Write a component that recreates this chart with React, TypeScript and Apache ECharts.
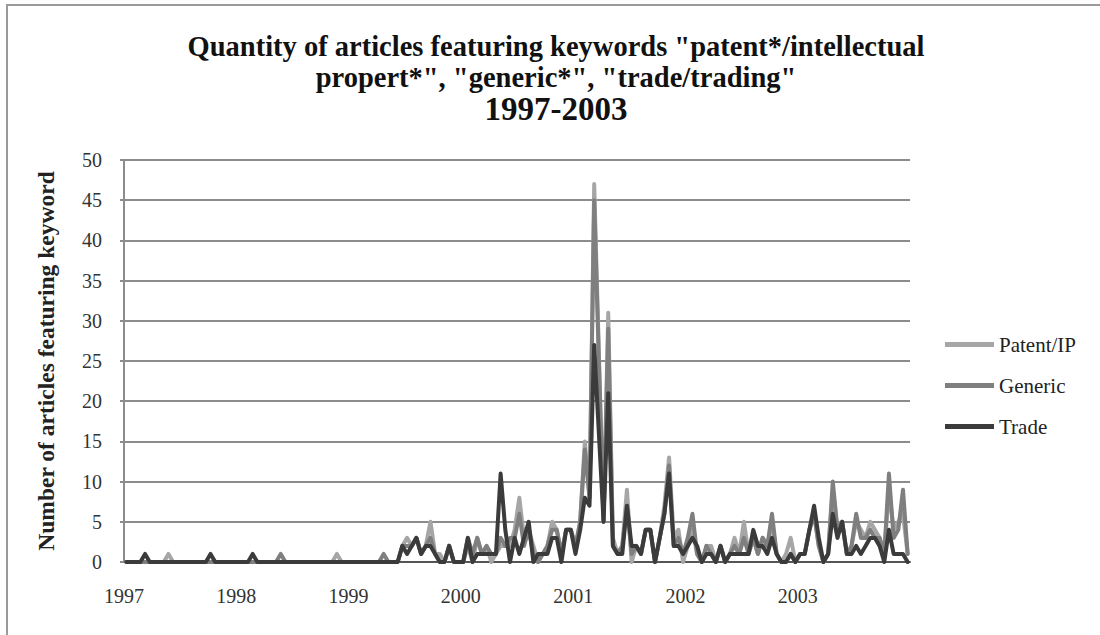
import React, { useEffect, useRef } from 'react';
import * as echarts from 'echarts';

// Year labels shown under the x axis
const yearLabels = ['1997', '1998', '1999', '2000', '2001', '2002', '2003'];
const periodsPerYear = 24; // two readings per month
const categories = yearLabels.flatMap((y) =>
  Array.from({ length: periodsPerYear }, (_, k) => `${y}-${k + 1}`)
);

// Patent/IP series (one row per year)
const patentIP = [
  0, 0, 0, 0, 0, 0, 0, 0, 0, 1, 0, 0, 0, 0, 0, 0, 0, 0, 0, 0, 0, 0, 0, 0,
  0, 0, 0, 0, 0, 0, 0, 0, 0, 0, 0, 0, 0, 0, 0, 0, 0, 0, 0, 0, 0, 1, 0, 0,
  0, 0, 0, 0, 0, 0, 0, 0, 0, 0, 0, 2, 3, 2, 3, 1, 2, 5, 1, 1, 0, 2, 0, 0,
  0, 2, 0, 3, 1, 2, 0, 1, 2, 2, 2, 4, 8, 3, 4, 2, 0, 1, 2, 5, 4, 1, 4, 4,
  2, 5, 15, 8, 47, 26, 5, 31, 3, 1, 2, 9, 0, 2, 1, 4, 4, 0, 3, 7, 13, 3, 4, 0,
  2, 4, 1, 0, 2, 2, 0, 2, 0, 1, 3, 1, 5, 1, 3, 1, 3, 2, 5, 1, 0, 1, 3, 0,
  1, 1, 4, 6, 2, 0, 1, 9, 4, 5, 1, 2, 5, 4, 3, 5, 4, 3, 1, 9, 4, 5, 6, 1,
];

// Generic series
const generic = [
  0, 0, 0, 0, 0, 0, 0, 0, 0, 0, 0, 0, 0, 0, 0, 0, 0, 0, 0, 0, 0, 0, 0, 0,
  0, 0, 0, 0, 0, 0, 0, 0, 0, 1, 0, 0, 0, 0, 0, 0, 0, 0, 0, 0, 0, 0, 0, 0,
  0, 0, 0, 0, 0, 0, 0, 1, 0, 0, 0, 2, 2, 2, 3, 1, 2, 3, 1, 0, 0, 2, 0, 0,
  0, 3, 1, 3, 1, 2, 1, 1, 3, 2, 3, 3, 6, 2, 4, 1, 0, 1, 2, 4, 4, 1, 4, 4,
  2, 5, 14, 8, 45, 25, 5, 29, 2, 1, 2, 7, 1, 2, 1, 4, 4, 0, 3, 6, 12, 2, 3, 1,
  3, 6, 1, 0, 2, 1, 0, 2, 0, 1, 2, 1, 3, 1, 3, 1, 3, 2, 6, 1, 0, 0, 1, 0,
  1, 1, 4, 6, 2, 0, 1, 10, 4, 5, 1, 2, 6, 3, 3, 4, 3, 3, 1, 11, 3, 4, 9, 1,
];

// Trade series
const trade = [
  0, 0, 0, 0, 1, 0, 0, 0, 0, 0, 0, 0, 0, 0, 0, 0, 0, 0, 1, 0, 0, 0, 0, 0,
  0, 0, 0, 1, 0, 0, 0, 0, 0, 0, 0, 0, 0, 0, 0, 0, 0, 0, 0, 0, 0, 0, 0, 0,
  0, 0, 0, 0, 0, 0, 0, 0, 0, 0, 0, 2, 1, 2, 3, 1, 2, 2, 1, 0, 0, 2, 0, 0,
  0, 3, 0, 1, 1, 1, 1, 1, 11, 4, 0, 3, 1, 3, 5, 0, 1, 1, 1, 3, 3, 0, 4, 4,
  1, 4, 8, 7, 27, 16, 5, 21, 2, 1, 1, 7, 2, 2, 1, 4, 4, 0, 3, 6, 11, 2, 2, 1,
  2, 3, 2, 0, 1, 1, 0, 2, 0, 1, 1, 1, 1, 1, 4, 2, 2, 1, 3, 1, 0, 0, 1, 0,
  1, 1, 4, 7, 3, 0, 1, 6, 3, 5, 1, 1, 2, 1, 2, 3, 3, 2, 0, 4, 1, 1, 1, 0,
];

const seriesNames = ['Patent/IP', 'Generic', 'Trade'];
const seriesData = [patentIP, generic, trade];
const seriesColors = ['#a6a6a6', '#7f7f7f', '#3b3b3b'];

const titleLine1 = 'Quantity of articles featuring keywords "patent*/intellectual';
const titleLine2 = 'propert*", "generic*", "trade/trading"';
const titleLine3 = '1997-2003';
const yAxisName = 'Number of articles featuring keyword';

const FONT = '"Liberation Serif", "Times New Roman", serif';

export default function App() {
  const ref = useRef<HTMLDivElement>(null);

  useEffect(() => {
    const chart = echarts.init(ref.current as HTMLDivElement, null, { renderer: 'svg' });
    const titleStyle = (text: string, size: number) => ({
      text,
      font: `bold ${size}px ${FONT}`,
      fill: '#111111',
      textAlign: 'center',
      textVerticalAlign: 'middle',
      align: 'center',
      verticalAlign: 'middle',
    });
    chart.setOption({
      animation: false,
      backgroundColor: '#ffffff',
      graphic: [
        {
          type: 'polyline',
          shape: { points: [[7, 640], [7, 5], [1105, 5]] },
          style: { stroke: '#9a9a9a', lineWidth: 2, fill: 'none' },
          silent: true,
        },
        { type: 'text', x: 556, y: 46, style: titleStyle(titleLine1, 28.5) },
        { type: 'text', x: 556, y: 77, style: titleStyle(titleLine2, 28.5) },
        { type: 'text', x: 556, y: 109, style: titleStyle(titleLine3, 33) },
      ],
      legend: {
        orient: 'vertical',
        left: 940,
        top: 329,
        icon: 'rect',
        itemWidth: 49,
        itemHeight: 5,
        itemGap: 20,
        data: seriesNames,
        textStyle: { fontFamily: FONT, fontSize: 21, color: '#222222', lineHeight: 21 },
      },
      grid: { left: 124, right: 190, top: 160, bottom: 73, containLabel: false },
      xAxis: [
        {
          type: 'category',
          data: categories,
          boundaryGap: true,
          axisLine: { show: true, lineStyle: { color: '#555555', width: 2 } },
          axisTick: { show: false },
          axisLabel: { show: false },
          splitLine: { show: false },
        },
        {
          type: 'value',
          position: 'bottom',
          min: 0,
          max: yearLabels.length,
          interval: 1,
          axisLine: { show: false },
          axisTick: { show: false },
          splitLine: { show: false },
          axisLabel: {
            margin: 24,
            fontFamily: FONT,
            fontSize: 20,
            color: '#333333',
            formatter: (v: number) => yearLabels[v] ?? '',
            showMaxLabel: true,
          },
        },
      ],
      yAxis: {
        type: 'value',
        min: 0,
        max: 50,
        interval: 5,
        name: yAxisName,
        nameLocation: 'middle',
        nameRotate: 90,
        nameGap: 66,
        nameTextStyle: { fontFamily: FONT, fontSize: 23.5, fontWeight: 'bold', color: '#222222' },
        axisLine: { show: true, lineStyle: { color: '#8c8c8c', width: 2 } },
        axisTick: { show: true, length: 4, lineStyle: { color: '#8c8c8c', width: 2 } },
        axisLabel: { margin: 22, fontFamily: FONT, fontSize: 20, color: '#333333' },
        splitLine: { show: true, lineStyle: { color: '#8c8c8c', width: 2 } },
      },
      series: seriesNames.map((name, k) => ({
        name,
        type: 'line',
        xAxisIndex: 0,
        data: seriesData[k],
        showSymbol: false,
        symbol: 'none',
        color: seriesColors[k],
        itemStyle: { color: seriesColors[k] },
        lineStyle: { color: seriesColors[k], width: 4, join: 'round', cap: 'round' },
      })),
    });
    return () => chart.dispose();
  }, []);

  return (
    <div
      ref={ref}
      style={{ position: 'absolute', left: 0, top: 0, width: 1100, height: 635 }}
    />
  );
}
